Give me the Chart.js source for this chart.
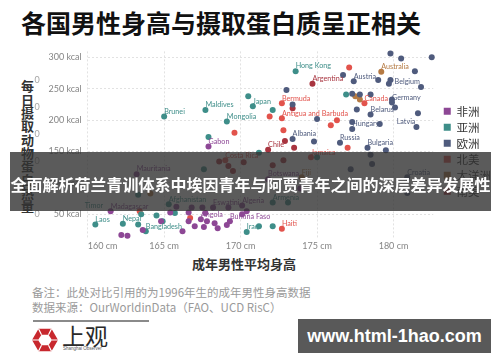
<!DOCTYPE html>
<html>
<head>
<meta charset="utf-8">
<script src="https://cdn.jsdelivr.net/npm/chart.js@4.4.1/dist/chart.umd.min.js"></script>
<style>
  html, body { margin: 0; padding: 0; background: #fff; }
  body { width: 500px; height: 362px; overflow: hidden; position: relative;
         font-family: 'Noto Sans CJK SC', 'Noto Sans', sans-serif; }
  .abs { position: absolute; white-space: nowrap; }
  #title { left: 21px; top: 6px; font-size: 25px; font-weight: 700; color: #111; line-height: 32px; }
  #ytitle { left: 20px; top: 80px; writing-mode: vertical-rl; font-size: 13px; font-weight: 700;
            color: #333; line-height: 14px; letter-spacing: 0.3px; }
  #wrap { left: 0; top: 40px; width: 495px; height: 213px; }
  #xtitle { left: 192px; top: 255px; font-size: 13px; font-weight: 700; color: #333; line-height: 18px; }
  .note { left: 32px; font-size: 11.5px; color: #9a9a9a; line-height: 15px; }
  #rule { left: 33px; top: 320px; width: 116px; height: 1.5px; background: #8a8a8a; }
  #banner { left: 10px; top: 152px; width: 481px; height: 59px; background: rgba(50,50,50,0.8);
            color: #fff; font-size: 16px; font-weight: 700; text-align: center; line-height: 64px; }
  #mark { left: 298px; top: 319px; width: 193px; height: 34px; background: rgba(60,60,60,0.85);
          color: #fff; font-family: 'Liberation Sans', sans-serif; font-size: 18px; font-weight: 700;
          text-align: center; line-height: 34px; }
  #brand { left: 62px; top: 320px; font-size: 23px; color: #2a2a2a; line-height: 30px; }
  #brandEn { left: 63px; top: 346px; font-family: 'Liberation Sans', sans-serif; font-size: 4.5px; color: #555; }
</style>
</head>
<body>
<div class="abs" id="title">各国男性身高与摄取蛋白质呈正相关</div>
<div class="abs" id="ytitle">每日摄取动物蛋白热量</div>
<div class="abs" id="wrap"><canvas id="chart" width="495" height="213"></canvas></div>
<div class="abs" id="xtitle">成年男性平均身高</div>
<div class="abs note" style="top:285px">备注：此处对比引用的为1996年生的成年男性身高数据</div>
<div class="abs note" style="top:300px">数据来源：OurWorldinData（FAO、UCD RisC）</div>
<div class="abs" id="rule"></div>
<svg class="abs" style="left:31px;top:326px" width="28" height="28" viewBox="0 0 28 28">
  <path fill="#c8282e" fill-rule="evenodd"
        d="M7.5 2.7 L20.5 2.7 L27 14 L20.5 25.3 L7.5 25.3 L1 14 Z
           M10.5 8.8 L17.5 8.8 L21 14 L17.5 19.2 L10.5 19.2 L7 14 Z"/>
  <path stroke="#fff" stroke-width="1.2" d="M20.5 2.7 L17.5 8.8 M27 14 L21 14 M20.5 25.3 L17.5 19.2 M7.5 25.3 L10.5 19.2 M1 14 L7 14 M7.5 2.7 L10.5 8.8"/>
</svg>
<div class="abs" id="brand">上观</div>
<div class="abs" id="brandEn">Shanghai Observer</div>
<div class="abs" id="banner">全面解析荷兰青训体系中埃因青年与阿贾青年之间的深层差异发展性</div>
<div class="abs" id="mark">www.html-1hao.com</div>

<script>
// Each entry: [country, average adult male height (cm), daily animal-protein kcal]
const africa = [
  ['Gabon', 167.9, 158], ['Mauritania', 163.2, 114], ['Madagascar', 161.5, 55],
  ['', 165.4, 53], ['', 166.6, 53], ['', 164.8, 39], ['', 166.6, 39], ['', 167.0, 31],
  ['', 167.7, 52], ['', 167.8, 39], ['', 168.3, 36], ['', 168.5, 28], ['', 167.6, 30],
  ['', 169.1, 33], ['', 170.4, 55], ['Eswatini', 168.2, 61], ['Burkina Faso', 169.3, 39],
  ['Angola', 167.4, 42], ['', 162.2, 17], ['', 162.6, 16], ['', 163.6, 25], ['', 166.2, 23],
  ['', 170.1, 50], ['Algeria', 170.1, 64], ['Botswana', 171.8, 106], ['', 165.8, 62],
  ['', 166.8, 61], ['', 167.5, 61], ['', 169.2, 61], ['', 173.9, 91]
];
const asia = [
  ['Hong Kong', 173.6, 278], ['', 170.5, 238], ['Japan', 170.8, 222], ['Maldives', 167.7, 216],
  ['', 172.1, 216], ['Mongolia', 169.1, 198], ['Brunei', 165.0, 206], ['', 167.9, 173],
  ['', 171.2, 148], ['', 175.0, 141], ['', 176.9, 241], ['', 167.6, 122], ['', 163.3, 81],
  ['Afghanistan', 165.3, 66], ['Armenia', 172.1, 69], ['', 173.1, 69], ['Timor', 159.8, 56],
  ['', 163.5, 50], ['', 164.5, 48], ['', 159.8, 34], ['Laos', 160.5, 34], ['Nepal', 162.3, 35],
  ['', 163.3, 34], ['', 165.7, 52], ['Iraq', 170.4, 22], ['', 171.2, 31], ['', 172.1, 31],
  ['Bangladesh', 163.8, 23], ['', 164.9, 39]
];
const europe = [
  ['', 179.8, 306], ['', 180.5, 298], ['', 182.5, 300], ['', 173.0, 248], ['', 173.4, 225],
  ['', 175.0, 202], ['Albania', 173.4, 170], ['', 174.8, 166], ['Russia', 176.5, 164],
  ['', 181.4, 278], ['Austria', 177.4, 262], ['', 176.7, 272], ['', 179.0, 264],
  ['', 179.8, 264], ['', 179.7, 258], ['Belgium', 181.8, 253], ['', 177.3, 242],
  ['', 177.8, 241], ['', 178.5, 241], ['', 179.9, 233], ['Germany', 179.9, 228],
  ['', 180.1, 220], ['', 177.6, 217], ['Belarus', 178.5, 209], ['', 181.6, 211],
  ['', 177.3, 197], ['', 179.1, 194], ['Hungary', 177.3, 186], ['Latvia', 181.5, 189],
  ['Bulgaria', 178.3, 156], ['', 179.5, 152], ['', 178.5, 145], ['Croatia', 180.9, 109],
  ['', 180.9, 84], ['', 177.2, 122], ['', 178.6, 130]
];
const northAmerica = [
  ['Bermuda', 172.7, 227], ['Antigua and Barbuda', 172.7, 203], ['', 171.9, 206],
  ['', 176.3, 200], ['', 175.9, 192], ['', 169.6, 180], ['', 172.8, 184], ['', 177.1, 284],
  ['Canada', 178.1, 227], ['', 177.0, 156], ['Jamaica', 174.6, 141], ['Haiti', 172.7, 27],
  ['', 163.4, 55], ['', 166.7, 44], ['Costa Rica', 169.0, 136]
];
const oceania = [
  ['Australia', 179.2, 277], ['', 177.5, 238], ['', 177.8, 233], ['Fiji', 174.0, 109],
  ['', 164.1, 83]
];
const southAmerica = [
  ['Argentina', 174.7, 258], ['Chile', 171.8, 153], ['', 173.4, 219], ['', 172.9, 167],
  ['', 173.5, 156], ['', 168.6, 134], ['', 169.2, 127], ['', 170.2, 133], ['', 172.1, 128],
  ['', 172.8, 136], ['', 169.5, 119]
];

const continentNames = ['非洲', '亚洲', '欧洲', '北美', '大洋洲', '南美'];
const xTickValues = [160, 165, 170, 175, 180];
const yTickValues = [50, 100, 150, 200, 250, 300];
const sideTickLabels = ['0', '0', '0', '0', '0', '0'];
const namesPlacedLeft = ['Belgium', 'Latvia'];

const groups = [africa, asia, europe, northAmerica, oceania, southAmerica];
const palette = ['#8d4795', '#3e8e89', '#4f5b7d', '#e2534c', '#b57a43', '#a8343f'];

Chart.defaults.font.family = 'Lato, "Noto Sans", sans-serif';

// Country names written next to their dots
const countryNames = {
  id: 'countryNames',
  afterDatasetsDraw(chart) {
    const ctx = chart.ctx;
    ctx.save();
    ctx.font = '7.2px Lato';
    ctx.textBaseline = 'middle';
    chart.data.datasets.forEach((ds, i) => {
      const meta = chart.getDatasetMeta(i);
      ds.data.forEach((p, j) => {
        if (!p.name) return;
        const el = meta.data[j];
        const left = namesPlacedLeft.includes(p.name);
        ctx.textAlign = left ? 'right' : 'left';
        ctx.fillStyle = ds.backgroundColor;
        ctx.fillText(p.name, el.x + (left ? -1 : 0), el.y - 5);
      });
    });
    ctx.restore();
  }
};

// Leave a little air between the plot and the legend column
const legendGap = {
  id: 'legendGap',
  afterLayout(chart) {
    const lg = chart.legend;
    if (lg) { lg.left += 6; lg.right += 6; }
  }
};

new Chart(document.getElementById('chart'), {
  type: 'scatter',
  data: {
    datasets: groups.map((g, i) => ({
      label: continentNames[i],
      data: g.map(([name, x, y]) => ({ x, y, name })),
      backgroundColor: palette[i],
      borderColor: palette[i],
      borderWidth: 0,
      pointRadius: 3,
      pointHoverRadius: 3,
      clip: false
    }))
  },
  options: {
    responsive: false,
    animation: false,
    devicePixelRatio: 1,
    events: [],
    layout: { padding: { left: 27.7, top: 9.6, right: 0, bottom: 0 } },
    plugins: {
      tooltip: { enabled: false },
      legend: {
        position: 'right',
        labels: {
          boxWidth: 7, boxHeight: 7, padding: 4.5, color: '#333',
          font: { family: '"Noto Sans CJK SC"', size: 11.5 }
        }
      }
    },
    scales: {
      x: {
        type: 'linear', min: 160, max: 182.6,
        afterBuildTicks: s => { s.ticks = xTickValues.concat([s.max]).map(value => ({ value })); },
        ticks: {
          align: 'inner', autoSkip: false, maxRotation: 0, padding: 2, color: '#858585',
          font: { size: 9 },
          callback: v => xTickValues.includes(v) ? v + ' cm' : ''
        },
        grid: {
          drawTicks: false,
          color: c => (c.tick && xTickValues.includes(c.tick.value)) ? '#e2e2e2' : 'rgba(0,0,0,0)'
        },
        border: { display: false, dash: [2, 2] }
      },
      y: {
        type: 'linear', min: 12, max: 309.5, weight: 0,
        afterBuildTicks: s => { s.ticks = yTickValues.map(value => ({ value })); },
        afterFit: s => { s.width = 40; },
        ticks: { padding: 6, color: '#858585', font: { size: 9 }, callback: v => v + ' kcal' },
        grid: { drawTicks: false, color: '#e2e2e2' },
        border: { display: false, dash: [2, 2] }
      },
      y2: {
        type: 'linear', position: 'left', min: 0.113, max: 7.073, weight: 1,
        afterBuildTicks: s => { s.ticks = sideTickLabels.map((t, i) => ({ value: i + 1 })); },
        afterFit: s => { s.width = 20; },
        ticks: { padding: 0, color: '#a5a5a5', font: { size: 9 }, callback: (v, i) => sideTickLabels[i] },
        grid: { display: false },
        border: { display: false }
      }
    }
  },
  plugins: [countryNames, legendGap]
});
</script>
</body>
</html>
